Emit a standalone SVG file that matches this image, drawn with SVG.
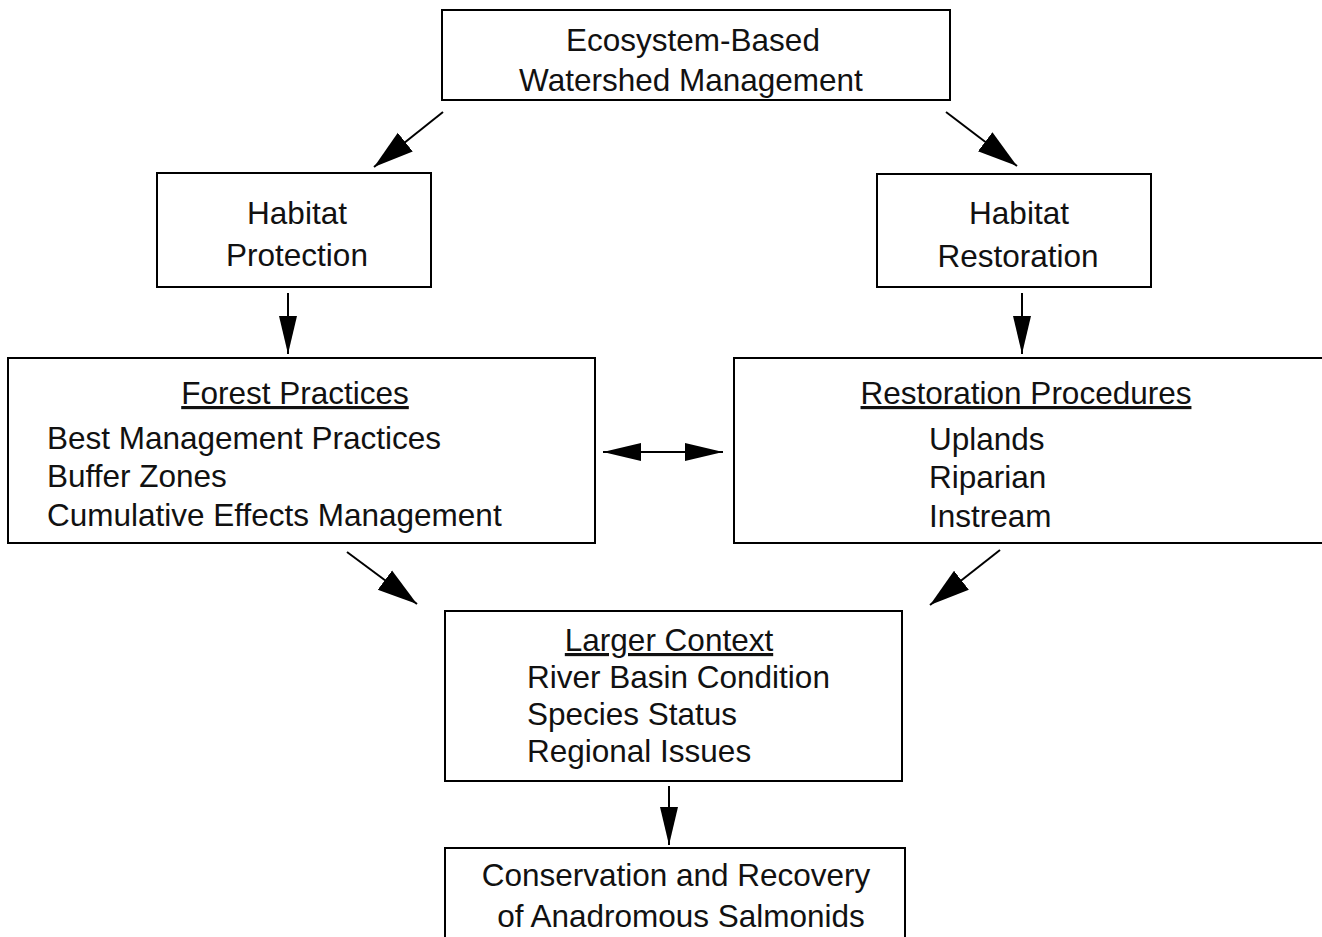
<svg xmlns="http://www.w3.org/2000/svg" width="1322" height="937" viewBox="0 0 1322 937">
<style>
  .box { fill: #fff; stroke: #000; stroke-width: 2; }
  .t { font-family: "Liberation Sans", Arial, sans-serif; font-size: 31.5px; fill: #111; }
  .c { text-anchor: middle; }
  .u { text-decoration: underline; }
  .conn line { stroke: #000; stroke-width: 2; }
</style>
<defs>
  <marker id="ah" markerUnits="userSpaceOnUse" markerWidth="42" markerHeight="28" refX="40" refY="14" orient="auto-start-reverse">
    <path d="M0,2 L40,14 L0,26 z" fill="#000"/>
  </marker>
  <marker id="av" markerUnits="userSpaceOnUse" markerWidth="40" markerHeight="22" refX="38" refY="11" orient="auto-start-reverse">
    <path d="M0,2 L38,11 L0,20 z" fill="#000"/>
  </marker>
</defs>
<rect width="1322" height="937" fill="#fff"/>
<g id="n-top">
  <rect class="box" x="442" y="10" width="508" height="90"/>
  <text class="t c" x="693" y="51">Ecosystem-Based</text>
  <text class="t c" x="691" y="91">Watershed Management</text>
</g>
<g id="n-protection">
  <rect class="box" x="157" y="173" width="274" height="114"/>
  <text class="t c" x="297" y="224">Habitat</text>
  <text class="t c" x="297" y="266">Protection</text>
</g>
<g id="n-restoration">
  <rect class="box" x="877" y="174" width="274" height="113"/>
  <text class="t c" x="1019" y="224">Habitat</text>
  <text class="t c" x="1018" y="267">Restoration</text>
</g>
<g id="n-forest">
  <rect class="box" x="8" y="358" width="587" height="185"/>
  <text class="t c u" x="295" y="404">Forest Practices</text>
  <text class="t" x="47" y="449">Best Management Practices</text>
  <text class="t" x="47" y="487">Buffer Zones</text>
  <text class="t" x="47" y="526">Cumulative Effects Management</text>
</g>
<g id="n-procedures">
  <rect class="box" x="734" y="358" width="600" height="185"/>
  <text class="t c u" x="1026" y="404">Restoration Procedures</text>
  <text class="t" x="929" y="450">Uplands</text>
  <text class="t" x="929" y="488">Riparian</text>
  <text class="t" x="929" y="527">Instream</text>
</g>
<g id="n-context">
  <rect class="box" x="445" y="611" width="457" height="170"/>
  <text class="t c u" x="669" y="651">Larger Context</text>
  <text class="t" x="527" y="688">River Basin Condition</text>
  <text class="t" x="527" y="725">Species Status</text>
  <text class="t" x="527" y="762">Regional Issues</text>
</g>
<g id="n-conservation">
  <rect class="box" x="445" y="848" width="460" height="110"/>
  <text class="t c" x="676" y="886">Conservation and Recovery</text>
  <text class="t c" x="681" y="927">of Anadromous Salmonids</text>
</g>
<g id="connectors" class="conn">
  <line x1="443" y1="112" x2="374" y2="167" marker-end="url(#ah)"/>
  <line x1="946" y1="112" x2="1017" y2="166" marker-end="url(#ah)"/>
  <line x1="288" y1="293" x2="288" y2="354" marker-end="url(#av)"/>
  <line x1="1022" y1="293" x2="1022" y2="354" marker-end="url(#av)"/>
  <line x1="603" y1="452" x2="723" y2="452" marker-start="url(#av)" marker-end="url(#av)"/>
  <line x1="347" y1="552" x2="417" y2="604" marker-end="url(#ah)"/>
  <line x1="1000" y1="550" x2="930" y2="605" marker-end="url(#ah)"/>
  <line x1="669" y1="786" x2="669" y2="845" marker-end="url(#av)"/>
</g>
</svg>
